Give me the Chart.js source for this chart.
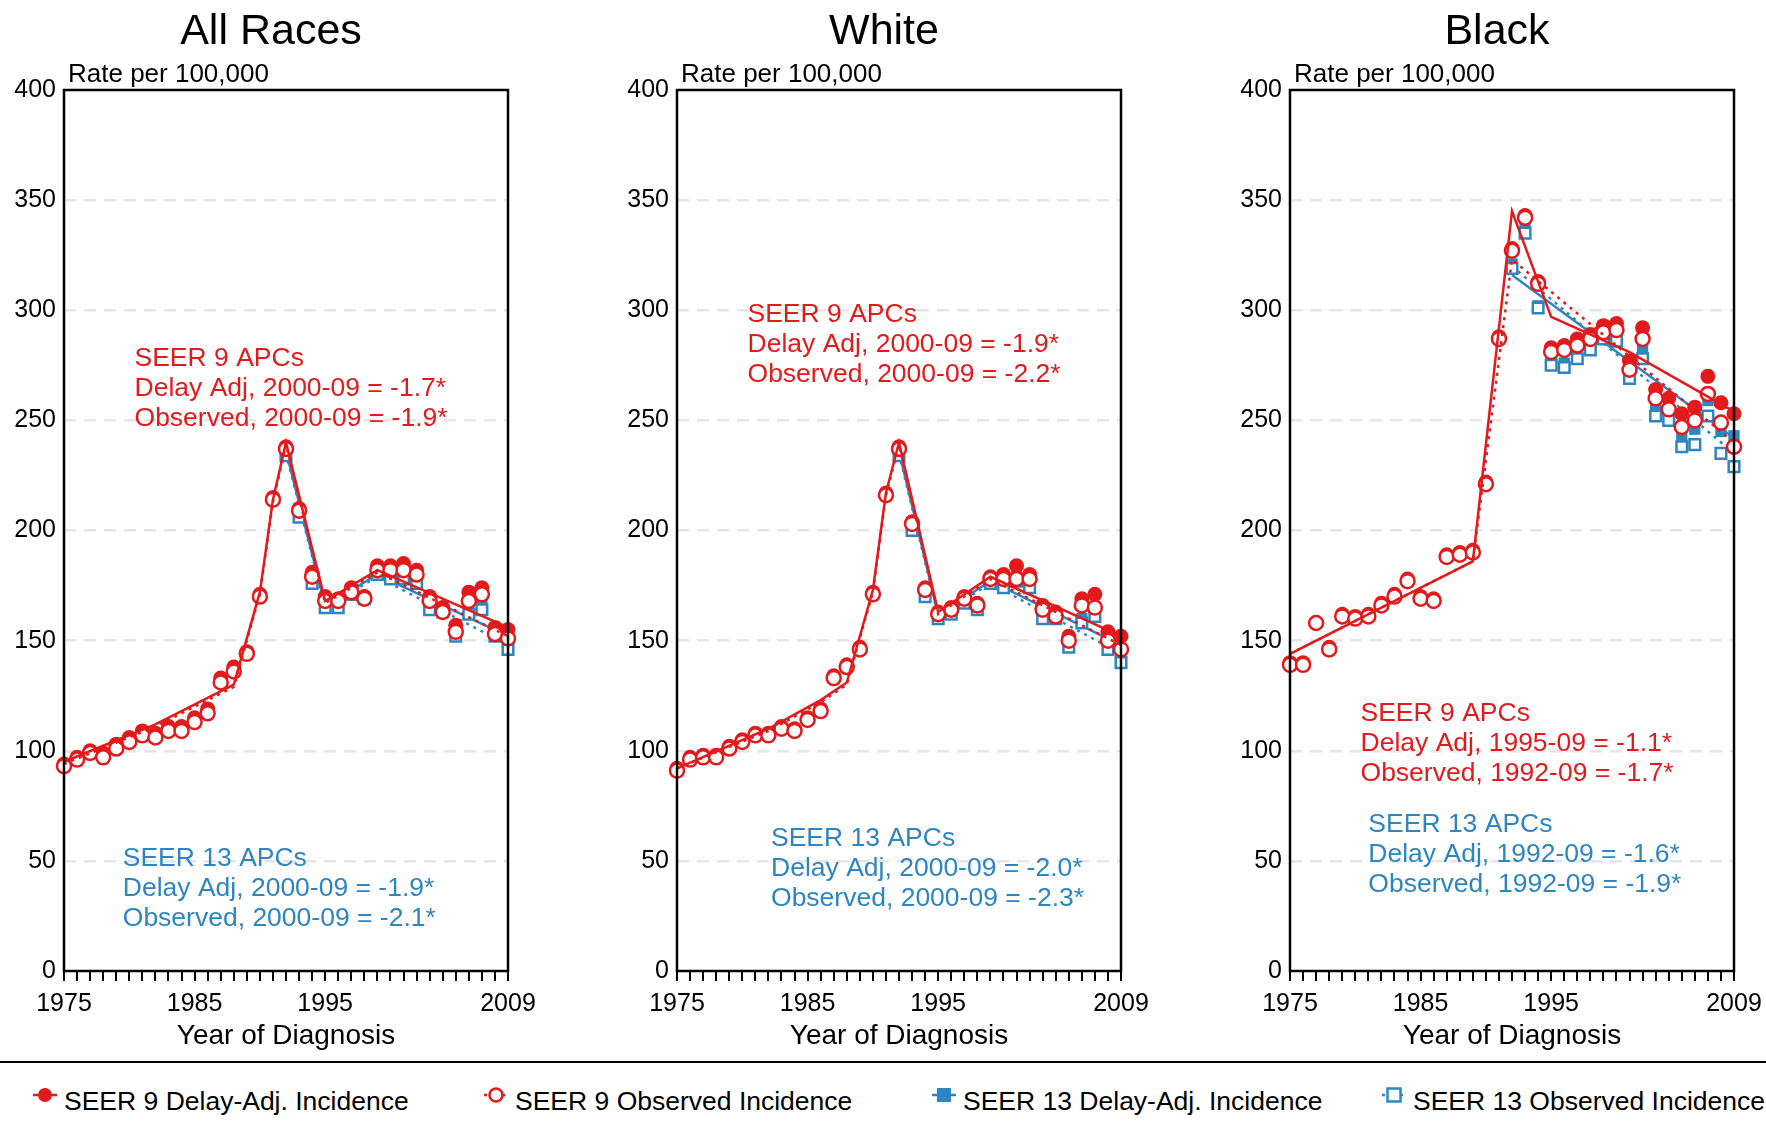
<!DOCTYPE html>
<html><head><meta charset="utf-8">
<script src="https://cdn.jsdelivr.net/npm/chart.js@4.4.1/dist/chart.umd.min.js"></script>
<style>
body{margin:0;width:1766px;height:1128px;background:#fff;position:relative;overflow:hidden;font-family:"Liberation Sans",Arial,sans-serif}
.cv{position:absolute;top:0}
#rule{position:absolute;left:0;top:1061px;width:1766px;height:2px;background:#000}
.lg{position:absolute;top:1086px;font-size:26.5px;color:#000;white-space:nowrap}
.lg svg{position:absolute;left:-32px;top:0}
</style></head><body>
<canvas id="c0" class="cv"></canvas><canvas id="c1" class="cv"></canvas><canvas id="c2" class="cv"></canvas>
<div id="rule"></div>
<div class="lg" style="left:64px"><svg width="26" height="26" viewBox="0 0 26 26"><line x1="1" y1="9" x2="25" y2="9" stroke="#e31a1c" stroke-width="2.5"/><circle cx="13" cy="9" r="7" fill="#e31a1c"/></svg>SEER 9 Delay-Adj. Incidence</div>
<div class="lg" style="left:515px"><svg width="26" height="26" viewBox="0 0 26 26"><line x1="1" y1="9" x2="25" y2="9" stroke="#e31a1c" stroke-width="2.5" stroke-dasharray="3,3"/><circle cx="13" cy="9" r="6.5" fill="#fff" stroke="#e31a1c" stroke-width="2.5"/></svg>SEER 9 Observed Incidence</div>
<div class="lg" style="left:963px"><svg width="26" height="26" viewBox="0 0 26 26"><line x1="1" y1="9" x2="25" y2="9" stroke="#2e86c1" stroke-width="2.5"/><rect x="6" y="2" width="14" height="14" fill="#2e86c1"/></svg>SEER 13 Delay-Adj. Incidence</div>
<div class="lg" style="left:1413px"><svg width="26" height="26" viewBox="0 0 26 26"><line x1="1" y1="9" x2="25" y2="9" stroke="#2e86c1" stroke-width="2.5" stroke-dasharray="3,3"/><rect x="6.5" y="2.5" width="13" height="13" fill="#fff" stroke="#2e86c1" stroke-width="2.5"/></svg>SEER 13 Observed Incidence</div>
<script>
const years9 = Array.from({length:35},(_,i)=>1975+i);
const years13 = Array.from({length:18},(_,i)=>1992+i);
const xTickLabels = [1975,1985,1995,2009];
const yTicks = [0,50,100,150,200,250,300,350,400];
const titles = ["All Races","White","Black"];

// All Races
const allS9Delay = [94,97,100,99,103,106,109,108,111,111,115,119,133,138,145,171,215,238,210,181,170,169,174,170,184,184,185,182,170,165,157,172,174,156,155];
const allS9Obs   = [93,96,99,97,101,104,107,106,109,109,113,117,131,136,144,170,214,237,209,179,168,168,172,169,182,182,182,180,168,163,154,168,171,153,151];
const allS13Delay= [236,207,178,167,168,172,170,181,180,181,179,166,164,154,165,167,154,150];
const allS13Obs  = [234,206,176,165,165,171,169,180,178,178,176,164,163,152,162,164,152,146];
const allT9DelayX=[1975,1982,1986,1988,1990,1991,1992,1995,1999,2009], allT9DelayY=[95,112,124,130,172,214,240,168,182,156];
const allT9ObsX=[1975,1982,1986,1988,1990,1991,1992,1995,1999,2009], allT9ObsY=[94,111,123,129,171,213,239,167,181,152];
const allT13DelayX=[1992,1995,1999,2009], allT13DelayY=[236,166,180,152];
const allT13ObsX=[1992,1995,1999,2009], allT13ObsY=[235,165,179,148];

// White
const whS9Delay = [92,97,98,98,102,105,108,108,111,110,115,119,134,139,147,172,217,238,204,174,163,165,170,167,179,180,184,180,166,163,152,169,171,154,152];
const whS9Obs   = [91,96,97,97,101,104,107,107,110,109,114,118,133,138,146,171,216,237,203,173,162,164,169,166,178,178,178,178,164,161,150,166,165,150,146];
const whS13Delay= [236,201,172,161,163,168,165,178,176,180,177,162,162,149,160,165,148,142];
const whS13Obs  = [234,200,170,160,162,167,164,176,174,177,174,160,160,147,158,161,146,140];
const whT9DelayX=[1975,1982,1986,1988,1990,1991,1992,1995,1999,2009], whT9DelayY=[92,110,123,131,173,217,240,163,179,152];
const whT9ObsX=[1975,1982,1986,1988,1990,1991,1992,1995,1999,2009], whT9ObsY=[92,109,122,130,172,216,239,162,178,148];
const whT13DelayX=[1992,1995,1999,2009], whT13DelayY=[236,162,177,148];
const whT13ObsX=[1992,1995,1999,2009], whT13ObsY=[235,161,176,144];

// Black
const blS9Delay = [140,140,158,147,162,161,162,167,171,178,170,169,189,190,191,222,288,328,343,313,283,284,287,289,293,294,277,292,264,260,253,256,270,258,253];
const blS9Obs   = [139,139,158,146,161,160,161,166,170,177,169,168,188,189,190,221,287,327,342,312,281,282,284,287,290,291,273,287,260,255,247,250,262,249,238];
const blS13Delay= [321,337,302,276,276,280,284,290,292,273,283,256,255,243,246,259,245,243];
const blS13Obs  = [319,335,301,275,274,278,282,287,286,269,278,252,250,238,239,252,235,229];
const blT9DelayX=[1975,1989,1992,1995,2001,2009], blT9DelayY=[144,186,345,297,281,254];
const blT9ObsX=[1975,1989,1992,2009], blT9ObsY=[144,186,323,240];
const blT13DelayX=[1992,2009], blT13DelayY=[316,242];
const blT13ObsX=[1992,2009], blT13ObsY=[320,235];

const annRed = [
 ["SEER 9 APCs","Delay Adj, 2000-09 = -1.7*","Observed, 2000-09 = -1.9*"],
 ["SEER 9 APCs","Delay Adj, 2000-09 = -1.9*","Observed, 2000-09 = -2.2*"],
 ["SEER 9 APCs","Delay Adj, 1995-09 = -1.1*","Observed, 1992-09 = -1.7*"]];
const annBlue = [
 ["SEER 13 APCs","Delay Adj, 2000-09 = -1.9*","Observed, 2000-09 = -2.1*"],
 ["SEER 13 APCs","Delay Adj, 2000-09 = -2.0*","Observed, 2000-09 = -2.3*"],
 ["SEER 13 APCs","Delay Adj, 1992-09 = -1.6*","Observed, 1992-09 = -1.9*"]];
const annRedPos = [[1980.4,278],[1980.4,298],[1980.4,117]];
const annBluePos = [[1979.5,51],[1982.2,60],[1981,66.5]];

const RED='#e31a1c', BLUE='#2e86c1';
const zip=(xs,ys)=>xs.map((x,i)=>({x,y:ys[i]}));
const panels=[
 [allS9Delay,allS9Obs,allS13Delay,allS13Obs,[allT9DelayX,allT9DelayY],[allT9ObsX,allT9ObsY],[allT13DelayX,allT13DelayY],[allT13ObsX,allT13ObsY]],
 [whS9Delay,whS9Obs,whS13Delay,whS13Obs,[whT9DelayX,whT9DelayY],[whT9ObsX,whT9ObsY],[whT13DelayX,whT13DelayY],[whT13ObsX,whT13ObsY]],
 [blS9Delay,blS9Obs,blS13Delay,blS13Obs,[blT9DelayX,blT9DelayY],[blT9ObsX,blT9ObsY],[blT13DelayX,blT13DelayY],[blT13ObsX,blT13ObsY]]];
const plotLefts=[64,677,1290];
const FONT='"Liberation Sans", Arial, sans-serif';

panels.forEach((p,k)=>{
  const cv=document.getElementById('c'+k);
  const W=64+443+60, H=1058;
  cv.style.left=(plotLefts[k]-64)+'px'; cv.style.width=W+'px'; cv.style.height=H+'px';
  cv.width=W; cv.height=H;
  const pts=(data,xs,style,fill,order,r,bw)=>({type:'scatter',data:zip(xs,data),showLine:false,pointStyle:style,clip:false,
    pointRadius:r,pointHoverRadius:r,pointBackgroundColor:fill,pointBorderColor:style==='circle'?RED:BLUE,pointBorderWidth:bw,order});
  const line=(t,col,dash,order)=>({type:'line',data:zip(t[0],t[1]),borderColor:col,borderWidth:2.5,borderDash:dash,pointRadius:0,fill:false,tension:0,clip:false,order});
  const ds=[
    line(p[6],BLUE,[],8), line(p[7],BLUE,[3,5],8),
    line(p[4],RED,[],2), line(p[5],RED,[3,5],2),
    pts(p[2],years13,'rect',BLUE,6,8,0),
    pts(p[3],years13,'rect','#fff',5,7.5,2.5),
    pts(p[0],years9,'circle',RED,4,7.5,0),
    pts(p[1],years9,'circle','#fff',3,7,2.5)];
  const deco={id:'deco',afterDraw(c){
    const g=c.ctx,a=c.chartArea,xs=c.scales.x,ys=c.scales.y;
    g.save();
    g.strokeStyle='#000';g.lineWidth=2.5;g.strokeRect(a.left,a.top,a.right-a.left,a.bottom-a.top);
    g.fillStyle='#000';g.textBaseline='alphabetic';
    g.font='43px '+FONT;g.textAlign='center';g.fillText(titles[k],(a.left+a.right)/2-15,44);
    g.font='28px '+FONT;g.textBaseline='middle';g.fillText('Year of Diagnosis',(a.left+a.right)/2,1036);
    g.font='26px '+FONT;g.textAlign='left';g.textBaseline='alphabetic';g.fillText('Rate per 100,000',a.left+4,82);
    g.textBaseline='middle';g.font='26.5px '+FONT;
    [[annRed[k],annRedPos[k],RED],[annBlue[k],annBluePos[k],BLUE]].forEach(([lines,pos,col])=>{
      g.fillStyle=col;
      lines.forEach((t,i)=>g.fillText(t,xs.getPixelForValue(pos[0]),ys.getPixelForValue(pos[1])+i*30));
    });
    g.restore();
  }};
  new Chart(cv,{data:{datasets:ds},plugins:[deco],options:{
    responsive:false,animation:false,devicePixelRatio:1,
    layout:{padding:{top:90,right:59,left:0,bottom:0}},
    plugins:{legend:{display:false},tooltip:{enabled:false}},
    scales:{
      x:{type:'linear',min:1975,max:2009,
        afterBuildTicks(s){s.ticks=years9.map(v=>({value:v}));},
        afterFit(s){s.height=87;},
        ticks:{autoSkip:false,maxRotation:0,padding:8,color:'#000',font:{size:25,family:FONT},
          callback:v=>xTickLabels.includes(v)?String(v):''},
        grid:{drawOnChartArea:false,color:'#000',lineWidth:2,tickLength:10},
        border:{display:false}},
      y:{min:0,max:400,
        afterBuildTicks(s){s.ticks=yTicks.map(v=>({value:v}));},
        afterFit(s){s.width=64;},
        ticks:{color:'#000',padding:8,font:{size:25,family:FONT}},
        grid:{color:(c)=>(c.tick&&(c.tick.value===0||c.tick.value===400))?'rgba(0,0,0,0)':'#e6e6e6',lineWidth:2.5,drawTicks:false},
        border:{display:false,dash:[12,8]}}
    }}});
});
</script>
</body></html>
